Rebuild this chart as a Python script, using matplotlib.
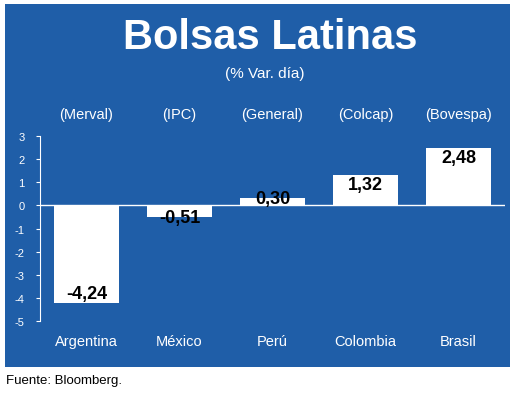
import matplotlib
matplotlib.use("Agg")
import matplotlib.pyplot as plt
from matplotlib.patches import Rectangle

plt.rcParams['font.family'] = ['Liberation Sans Narrow', 'Liberation Sans', 'DejaVu Sans']

countries = ["Argentina", "México", "Perú", "Colombia", "Brasil"]
indices = ["(Merval)", "(IPC)", "(General)", "(Colcap)", "(Bovespa)"]
values = [-4.24, -0.51, 0.30, 1.32, 2.48]
yticks = [3, 2, 1, 0, -1, -2, -3, -4, -5]

blue = "#1f5ea8"
W, H = 520, 406
fig = plt.figure(figsize=(5.2, 4.06), dpi=100)
fig.patches.append(Rectangle((5/W, 1-368/H), 505/W, 363/H, transform=fig.transFigure,
                             facecolor=blue, edgecolor="none", zorder=-10))
fig.text(270/W, 1-38/H, "Bolsas Latinas", color="white", fontsize=30, fontweight="bold",
         ha="center", va="center")
fig.text(265/W, 1-74/H, "(% Var. día)", color="white", fontsize=11, ha="center", va="center")

ax = fig.add_axes([40/W, 1-322/H, 465/W, 185/H])
ax.set_facecolor("none")
ax.set_xlim(-0.5, 4.5)
ax.set_ylim(-5, 3)
x = range(len(values))
ax.bar(x, values, width=0.7, color="white", zorder=2)
for i, v in enumerate(values):
    y = v - (0.42 if v > 0 else -0.42) if abs(v) > 1 else v
    ax.text(i, y, f"{v:.2f}".replace(".", ","), ha="center", va="center",
            fontsize=13, fontweight="bold", color="black", zorder=3)
    ax.text(i, 3.95, indices[i], ha="center", va="center", color="white", fontsize=10.5,
            clip_on=False)
    ax.text(i, -5.85, countries[i], ha="center", va="center", color="white", fontsize=10.5,
            clip_on=False)
ax.axhline(0, color="white", lw=1, zorder=1)
ax.set_yticks(yticks)
ax.set_yticklabels([str(t) for t in yticks], color="white", fontsize=8)
ax.tick_params(axis="y", colors="white", length=3, labelcolor="white", pad=8)
ax.set_xticks([])
for s in ["top", "right", "bottom"]:
    ax.spines[s].set_visible(False)
ax.spines["left"].set_color("white")

fig.text(6/W, 1-381/H, "Fuente: Bloomberg.", color="black", fontsize=9.5, ha="left", va="center")
fig.savefig("out.png", dpi=100, facecolor="white")
